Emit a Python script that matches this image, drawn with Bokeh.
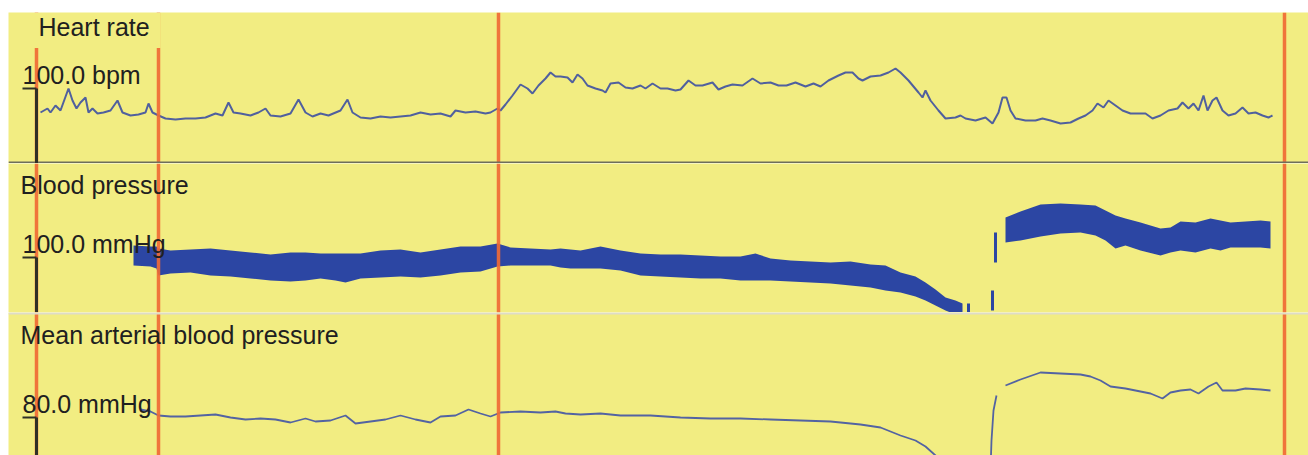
import math
import numpy as np
from bokeh.plotting import figure
from bokeh.models import Range1d, Span, Label
from bokeh.layouts import column
from bokeh.embed import file_html
from bokeh.resources import INLINE

NAN = float("nan")

# ---------------- data (time in seconds) ----------------
MARKER_TIMES = [14, 75, 245, 638]

HR_TIME = [16, 19.5, 21, 23.5, 26, 30, 32, 34, 36, 38.5,
           40, 42, 44.5, 47.5, 51, 54.5, 57, 61, 65, 68.5,
           70, 72, 75, 78.5, 83.5, 88.5, 93.5, 98.5, 103.5, 107,
           110, 112.5, 116, 121, 125, 128.5, 131, 136, 141, 145,
           148.5, 152, 156, 160, 166, 169.5, 172, 176, 181, 186,
           191, 196, 201, 206, 211, 216, 221, 223.5, 228.5, 233.5,
           238.5, 241, 244.5, 246, 248.5, 252, 256, 259.5, 262, 265,
           268.5, 271, 273.5, 276, 279.5, 282, 284.5, 287, 289.5, 293.5,
           297, 298.5, 301, 305, 308.5, 312, 316, 318.5, 322, 326,
           329.5, 333.5, 336, 340, 343.5, 347, 352, 355, 358.5, 362,
           367, 372, 376, 381, 385, 389, 393.5, 398.5, 402.5, 406,
           410, 415, 418.5, 422, 425, 427, 431, 436, 440, 443.5,
           446, 450, 452.5, 455, 457, 458.5, 461, 465, 468.5, 473.5,
           476, 478.5, 483.5, 488.5, 492, 495, 497, 499, 501, 503.5,
           508.5, 513.5, 517, 521, 526, 531, 535, 538.5, 542, 544.5,
           547.5, 550, 553.5, 557, 561, 565, 568.5, 572, 576, 580,
           584.5, 587, 590, 592.5, 595, 597.5, 599.5, 602, 604, 607,
           610, 613.5, 617, 620, 623.5, 627, 630, 632]
HR_BPM = [76, 80, 76, 83, 78, 100, 88, 80, 86, 91,
          76, 80, 75, 76, 78, 88, 76, 73, 74, 76,
          85, 76, 73, 70, 69, 70, 70, 71, 75, 73,
          86, 76, 75, 73, 76, 80, 73, 72, 75, 89,
          76, 72, 75, 73, 78, 89, 76, 71, 70, 72,
          71, 72, 73, 76, 74, 75, 72, 78, 76, 77,
          75, 76, 80, 78, 84, 93, 104, 100, 95, 103,
          110, 116, 112, 112, 111, 106, 114, 110, 103, 100,
          98, 96, 105, 106, 101, 100, 103, 100, 105, 100,
          100, 98, 99, 108, 103, 103, 106, 99, 102, 104,
          103, 110, 105, 106, 103, 103, 106, 102, 105, 102,
          108, 113, 116, 116, 110, 108, 112, 113, 116, 120,
          116, 108, 102, 96, 91, 98, 88, 78, 70, 71,
          73, 70, 68, 71, 65, 76, 91, 91, 78, 70,
          68, 68, 70, 68, 65, 66, 70, 73, 78, 85,
          81, 88, 83, 78, 75, 75, 75, 70, 73, 78,
          80, 86, 80, 85, 78, 93, 78, 88, 91, 78,
          73, 75, 81, 75, 76, 73, 71, 73]

# arterial pressure waveform envelope (systolic / diastolic), NaN = no signal
BP_TIME = [62.5, 71, 74, 75, 81, 91, 101, 111, 121, 131,
           141, 148.5, 156, 163.5, 168.5, 176, 186, 196, 206, 216,
           226, 236, 244.5, 251, 261, 271, 276, 281, 286, 296,
           306, 316, 326, 336, 346, 356, 366, 373.5, 381, 391,
           401, 411, 421, 431, 438.5, 446, 453.5, 458.5, 463.5, 468.5,
           473.5, 477, NAN,
           498.5, 506, 516, 526, 536, 543.5, 548.5, 553.5, 558.5, 566,
           576, 581, 586, 593.5, 601, 606, 611, 618.5, 626, 631]
BP_SYS = [112, 111, 111, 109, 107, 108, 109, 107, 105, 103,
          105, 105, 104, 104, 104, 104, 107, 108, 105, 108,
          111, 111, 114, 110, 109, 108, 109, 108, 107, 111,
          107, 104, 103, 103, 102, 101, 101, 104, 99, 97,
          96, 95, 96, 93, 92, 85, 81, 75, 68, 60,
          57, 54, NAN,
          140, 146, 153, 154, 153, 152, 147, 142, 139, 135,
          129, 130, 136, 135, 139, 137, 135, 136, 137, 136]
BP_DIA = [92, 91, 89, 82, 84, 85, 82, 81, 79, 77,
          76, 77, 79, 77, 75, 79, 80, 81, 80, 82,
          85, 86, 91, 92, 92, 92, 90, 89, 89, 89,
          87, 82, 81, 80, 79, 79, 77, 77, 77, 76,
          75, 74, 72, 70, 67, 65, 61, 57, 52, 47,
          43, 41, NAN,
          115, 117, 121, 124, 125, 122, 117, 109, 112, 107,
          102, 105, 107, 105, 109, 107, 110, 110, 110, 109]
BP_PULSE_TIME = [480, 492, 493.5]
BP_PULSE_LOW = [44, 47, 95]
BP_PULSE_HIGH = [54, 67, 125]

MAP_TIME = [66, 71, 75, 81, 88.5, 96, 103.5, 111, 118.5, 126,
            133.5, 141, 148.5, 153.5, 161, 168.5, 173.5, 181, 188.5, 196,
            203.5, 211, 216, 223.5, 230, 236, 241, 246, 256, 266,
            273.5, 278.5, 286, 296, 306, 321, 336, 351, 366, 381,
            396, 411, 426, 436, 446, 453.5, 458.5, 463.5, 468.5, NAN,
            491, 491.5, 492.5, 494, NAN,
            498.5, 506, 516, 526, 536, 541, 546, 551, 558.5, 563.5,
            571, 577, 581, 586, 591, 595, 600, 604, 607, 613.5,
            618.5, 626, 631]
MAP_MMHG = [88, 86, 82, 81, 81, 82, 83, 80, 78, 79,
            78, 75, 79, 76, 77, 82, 74, 76, 78, 82,
            78, 75, 81, 82, 88, 84, 81, 85, 86, 85,
            86, 84, 83, 84, 82, 82, 80, 79, 79, 78,
            77, 76, 73, 70, 62, 57, 51, 42, 32, NAN,
            27, 57, 87, 102, NAN,
            112, 118, 125, 124, 123, 121, 117, 111, 109, 107,
            104, 99, 105, 107, 108, 104, 111, 115, 107, 107,
            109, 108, 107]

PANEL_TITLES = ["Heart rate", "Blood pressure", "Mean arterial blood pressure"]
TICK_VALUES = [100, 100, 80]
TICK_UNITS = ["bpm", "mmHg", "mmHg"]

# ---------------- styling / layout ----------------
YELLOW = "#f2ed82"
ORANGE = "#f06a35"
INK = "#202020"
AXIS_COLOR = "#303026"
HR_COLOR = "#50609e"
BP_COLOR = "#2c46a3"
MAP_COLOR = "#5363a2"
FONT = "Liberation Sans"
FONT_SIZE = "25px"
WIDTH = 1308
AXIS_TIME = 14
TICK_LEN = 7      # seconds (= 14 px)
BASE_FIX = 8      # px, lifts text so its baseline sits where intended

x_range = Range1d(0, 650)


def make_panel(height, y_start, y_end, top_border=0):
    p = figure(width=WIDTH, height=height, x_range=x_range,
               y_range=Range1d(y_start, y_end),
               output_backend="svg", toolbar_location=None,
               x_axis_location=None, y_axis_location=None,
               min_border=0, min_border_top=top_border, min_border_left=8,
               background_fill_color=YELLOW, border_fill_color="white",
               outline_line_color=None, title=None)
    p.xgrid.visible = False
    p.ygrid.visible = False
    for t in MARKER_TIMES:
        p.add_layout(Span(location=t, dimension="height", line_color=ORANGE,
                          line_width=3.5, line_alpha=0.92))
    return p


def add_value_axis(p, y_start, tick, unit):
    # vertical scale bar from the panel bottom up to the reference value
    p.segment(x0=[AXIS_TIME, AXIS_TIME - TICK_LEN], y0=[y_start, tick],
              x1=[AXIS_TIME, AXIS_TIME], y1=[tick, tick],
              line_color=AXIS_COLOR, line_width=[3, 2], level="overlay")
    p.add_layout(Label(x=AXIS_TIME, y=tick, x_offset=-14,
                       y_offset=6 + BASE_FIX,
                       text=f"{tick:.1f} {unit}", text_font=FONT,
                       text_font_size=FONT_SIZE, text_color=INK,
                       text_baseline="alphabetic", text_align="left"))


def add_title(p, x, y, text, boxed=False):
    kw = {}
    fix = BASE_FIX
    if boxed:
        kw = dict(background_fill_color=YELLOW,
                  padding=dict(left=8, right=11, top=0, bottom=7))
        fix = BASE_FIX - 1
    p.add_layout(Label(x=x, y=y, y_offset=fix, text=text, text_font=FONT,
                       text_font_size=FONT_SIZE, text_color=INK,
                       text_baseline="alphabetic", text_align="left", **kw))


def runs(ts):
    seg = []
    for i, t in enumerate(ts):
        if math.isnan(t):
            if seg:
                yield seg
            seg = []
        else:
            seg.append(i)
    if seg:
        yield seg


# Panel 1: heart rate
p1 = make_panel(163, 25, 176, top_border=12)
p1.line(HR_TIME, HR_BPM, line_color=HR_COLOR, line_width=2)
p1.add_layout(Span(location=25.8, dimension="width", line_color="#6e6e5c",
                   line_width=2.5))
add_value_axis(p1, 25, TICK_VALUES[0], TICK_UNITS[0])
add_title(p1, 11, 151, PANEL_TITLES[0], boxed=True)

# Panel 2: blood pressure
p2 = make_panel(149, 45, 194)
for idx in runs(BP_TIME):
    p2.varea(x=[BP_TIME[i] for i in idx],
             y1=[BP_DIA[i] for i in idx],
             y2=[BP_SYS[i] for i in idx],
             fill_color=BP_COLOR)
p2.segment(x0=BP_PULSE_TIME, y0=BP_PULSE_LOW, x1=BP_PULSE_TIME,
           y1=BP_PULSE_HIGH, line_color=BP_COLOR, line_width=3)
add_value_axis(p2, 45, TICK_VALUES[1], TICK_UNITS[1])
add_title(p2, 6, 165, PANEL_TITLES[1])

# Panel 3: mean arterial pressure
p3 = make_panel(143, 42, 185)
p3.line(np.array(MAP_TIME, dtype=float), np.array(MAP_MMHG, dtype=float),
        line_color=MAP_COLOR, line_width=1.8)
p3.add_layout(Span(location=184, dimension="width", line_color="#dedcc8",
                   line_width=2))
add_value_axis(p3, 42, TICK_VALUES[2], TICK_UNITS[2])
add_title(p3, 6, 155, PANEL_TITLES[2])

layout = column(p1, p2, p3, spacing=0)
open("out.html", "w").write(file_html(layout, INLINE))
